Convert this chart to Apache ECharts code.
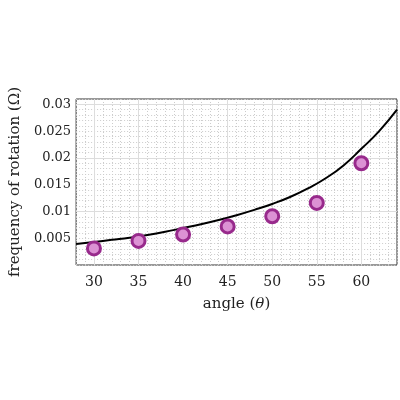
<!DOCTYPE html><html><head><meta charset="utf-8"><script src="https://cdn.jsdelivr.net/npm/echarts@6/dist/echarts.min.js"></script>
<style>body{margin:0}#c{width:400px;height:400px}</style></head><body><div id="c"></div><script>
const angles=[30,35,40,45,50,55,60];
const freqs=[0.0031,0.0045,0.0057,0.0072,0.0091,0.0116,0.019];
const curveX=[28,30,32,34,36,38,40,42,44,46,48,50,52,54,56,58,60,62,64];
const curveY=[0.0039,0.0043,0.0047,0.0051,0.0056,0.0062,0.0069,0.0076,0.0084,0.0093,0.0103,0.0114,0.0127,0.0143,0.0162,0.0186,0.0217,0.0250,0.0290];
const xMajor=[30,35,40,45,50,55,60];
const yMajor=[0.005,0.01,0.015,0.02,0.025,0.03];
const F='DejaVu Serif';
const c=echarts.init(document.getElementById('c'));
c.setOption({animation:false,
grid:{left:61,right:1,top:99,bottom:135,show:true,borderColor:'#333',borderWidth:1},
xAxis:{type:'value',min:28,max:64,interval:1,
 axisLine:{show:false},axisTick:{show:false},
 axisLabel:{color:'#222',fontFamily:F,fontSize:14,margin:10,formatter:v=>v%5===0?String(v):''},
 splitLine:{lineStyle:{color:'#ccc',type:[1,2],width:1}},
 name:'{a|angle (}{b|θ}{a|)}',nameLocation:'middle',nameGap:32,
 nameTextStyle:{rich:{a:{fontFamily:F,fontSize:15,color:'#222'},b:{fontFamily:F,fontSize:15,fontStyle:'italic',color:'#222'}}}},
yAxis:{type:'value',min:0,max:0.031,interval:0.001,
 axisLine:{show:false},axisTick:{show:false},
 axisLabel:{color:'#222',fontFamily:F,fontSize:13,margin:5,showMaxLabel:false,
  formatter:v=>{const k=Math.round(v*1000);return (k%5===0&&k>0)?String(k/1000):'';}},
 splitLine:{lineStyle:{color:'#ccc',type:[1,2],width:1}},
 name:'frequency of rotation (Ω)',nameLocation:'middle',nameGap:46,
 nameTextStyle:{fontFamily:F,fontSize:15,color:'#222'}},
series:[
{type:'line',data:[],z:1,zlevel:0,
 markLine:{silent:true,symbol:'none',label:{show:false},lineStyle:{color:'#ddd',type:'solid',width:1},
  data:xMajor.map(x=>({xAxis:x})).concat(yMajor.map(y=>({yAxis:y})))}},
{type:'line',data:curveX.map((x,i)=>[x,curveY[i]]),smooth:true,symbol:'none',lineStyle:{color:'#000',width:2},z:5},
{type:'scatter',data:angles.map((x,i)=>[x,freqs[i]]),symbolSize:13,z:6,
 itemStyle:{color:'#dc92d4',borderColor:'#982a8c',borderWidth:3,opacity:1}}
]});
</script></body></html>
